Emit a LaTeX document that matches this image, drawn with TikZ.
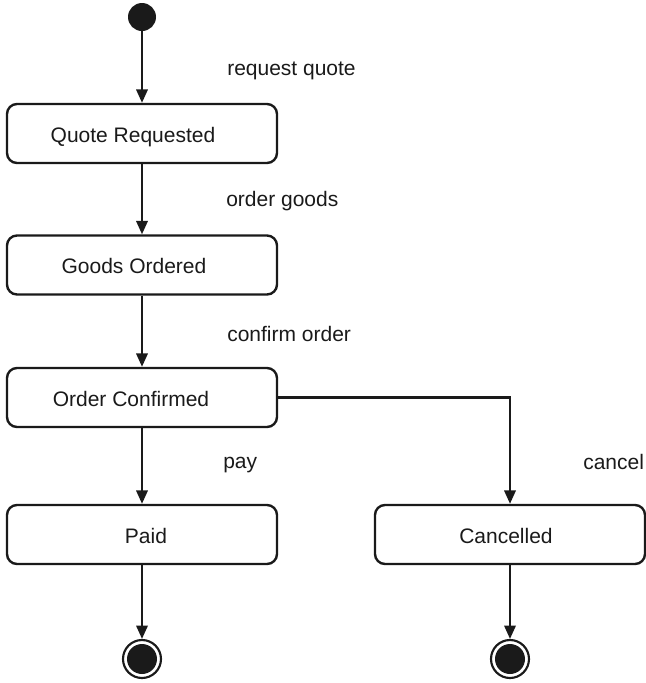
\documentclass[tikz,border=0pt]{standalone}
\usepackage{fontspec}
\setmainfont{Liberation Sans}
\usetikzlibrary{arrows.meta}
\definecolor{ink}{HTML}{1A1A1A}
\begin{document}
\begin{tikzpicture}[x=0.75pt,y=-0.75pt,
  statebox/.style={draw=ink, line width=1.8pt, rounded corners=7.5pt,
    minimum width=202.5pt, minimum height=44.25pt, inner sep=0pt},
  txt/.style={font=\fontsize{15.75}{19}\selectfont, inner sep=0pt, text=ink},
  flow/.style={draw=ink, line width=1.7pt, -{Triangle[length=10pt,width=8.5pt]}},
  initst/.style={circle, fill=ink, minimum size=21pt, inner sep=0pt},
  finring/.style={circle, draw=ink, line width=1.6pt, minimum size=28.5pt, inner sep=0pt},
  findot/.style={circle, fill=ink, minimum size=22.5pt, inner sep=0pt}
]
\useasboundingbox (0,0) rectangle (646,683);
% states
\node[initst] (init) at (142,17) {};
\node[statebox] (qr) at (142,133.5) {};
\node[txt, anchor=base] (qrt) at (133,142) {Quote Requested};
\node[statebox] (go) at (142,265) {};
\node[txt, anchor=base] (got) at (134,273.5) {Goods Ordered};
\node[statebox] (oc) at (142,397.5) {};
\node[txt, anchor=base] (oct) at (131,406) {Order Confirmed};
\node[statebox] (paid) at (142,534.5) {};
\node[txt, anchor=base] (paidt) at (146,543) {Paid};
\node[statebox] (canc) at (510,534.5) {};
\node[txt, anchor=base] (canct) at (506,543) {Cancelled};
\node[finring] (fin1) at (142,659) {};
\node[findot] (fin1in) at (142,659) {};
\node[finring] (fin2) at (510,659) {};
\node[findot] (fin2in) at (510,659) {};
% transition labels
\node[txt, anchor=base west] (l1) at (227,75) {request quote};
\node[txt, anchor=base west] (l2) at (226,206) {order goods};
\node[txt, anchor=base west] (l3) at (227,341) {confirm order};
\node[txt, anchor=base west] (l4) at (223,468) {pay};
\node[txt, anchor=base west] (l5) at (583,469) {cancel};
% transitions
\draw[flow] (init) -- (qr);
\draw[flow] (qr) -- (go);
\draw[flow] (go) -- (oc);
\draw[flow] (oc) -- (paid);
\draw[flow] (oc.east) -| (canc.north);
\draw[flow] (paid) -- (fin1);
\draw[flow] (canc) -- (fin2);
\end{tikzpicture}
\end{document}
